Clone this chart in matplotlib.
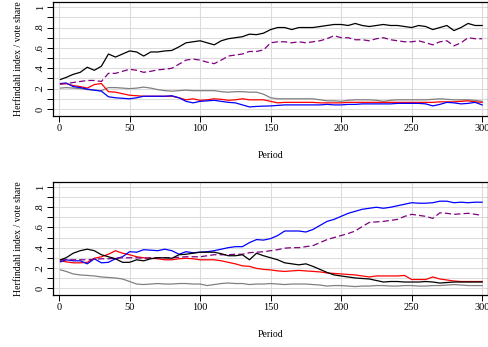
import matplotlib
matplotlib.use("Agg")
import matplotlib.pyplot as plt
import numpy as np

plt.rcParams["font.family"] = ["Liberation Serif", "DejaVu Serif"]

period = [1] + list(range(5, 301, 5))

# ---- top panel ----
top_black = [0.29, 0.31, 0.34, 0.36, 0.41, 0.38, 0.42, 0.54, 0.51, 0.54,
             0.57, 0.56, 0.52, 0.56, 0.56, 0.57, 0.575, 0.61, 0.65, 0.66,
             0.67, 0.65, 0.63, 0.67, 0.69, 0.70, 0.71, 0.735, 0.73, 0.745,
             0.78, 0.80, 0.80, 0.78, 0.80, 0.80, 0.80, 0.81, 0.82, 0.83,
             0.83, 0.82, 0.84, 0.82, 0.81, 0.82, 0.83, 0.82, 0.82, 0.81,
             0.80, 0.82, 0.81, 0.78, 0.80, 0.82, 0.77, 0.80, 0.84, 0.82, 0.82]
top_purple = [0.245, 0.25, 0.26, 0.27, 0.28, 0.28, 0.27, 0.35, 0.35, 0.37,
              0.39, 0.38, 0.36, 0.37, 0.385, 0.39, 0.40, 0.44, 0.48, 0.49,
              0.48, 0.46, 0.445, 0.48, 0.52, 0.53, 0.54, 0.565, 0.565, 0.58,
              0.65, 0.66, 0.66, 0.65, 0.66, 0.65, 0.66, 0.67, 0.69, 0.72,
              0.70, 0.70, 0.68, 0.68, 0.67, 0.69, 0.70, 0.68, 0.67, 0.66,
              0.66, 0.67, 0.65, 0.63, 0.66, 0.67, 0.62, 0.65, 0.70, 0.69, 0.69]
top_grey = [0.205, 0.21, 0.205, 0.20, 0.19, 0.185, 0.18, 0.21, 0.21, 0.205,
            0.20, 0.205, 0.215, 0.205, 0.19, 0.18, 0.175, 0.18, 0.185, 0.18,
            0.18, 0.18, 0.18, 0.17, 0.165, 0.17, 0.17, 0.165, 0.165, 0.145,
            0.11, 0.10, 0.10, 0.10, 0.10, 0.10, 0.10, 0.09, 0.08, 0.08,
            0.075, 0.085, 0.09, 0.09, 0.09, 0.085, 0.075, 0.085, 0.09, 0.09,
            0.09, 0.09, 0.09, 0.095, 0.10, 0.095, 0.09, 0.09, 0.09, 0.085, 0.075]
top_red = [0.245, 0.25, 0.23, 0.22, 0.205, 0.24, 0.25, 0.17, 0.165, 0.15,
           0.135, 0.13, 0.125, 0.125, 0.125, 0.125, 0.125, 0.11, 0.09, 0.10,
           0.085, 0.09, 0.10, 0.095, 0.085, 0.09, 0.10, 0.09, 0.09, 0.09,
           0.075, 0.06, 0.065, 0.065, 0.065, 0.065, 0.065, 0.06, 0.06, 0.06,
           0.06, 0.065, 0.065, 0.065, 0.065, 0.065, 0.065, 0.065, 0.065, 0.065,
           0.065, 0.065, 0.065, 0.065, 0.07, 0.07, 0.07, 0.075, 0.08, 0.07, 0.065]
top_blue = [0.25, 0.255, 0.22, 0.21, 0.195, 0.185, 0.175, 0.12, 0.11, 0.105,
            0.10, 0.11, 0.125, 0.125, 0.125, 0.125, 0.13, 0.11, 0.075, 0.06,
            0.075, 0.08, 0.085, 0.075, 0.065, 0.06, 0.04, 0.02, 0.025, 0.028,
            0.03, 0.035, 0.04, 0.04, 0.04, 0.04, 0.04, 0.04, 0.045, 0.04,
            0.04, 0.045, 0.045, 0.05, 0.05, 0.05, 0.05, 0.05, 0.055, 0.055,
            0.055, 0.055, 0.05, 0.03, 0.045, 0.065, 0.06, 0.05, 0.055, 0.065, 0.04]

# ---- bottom panel ----
bot_black = [0.28, 0.30, 0.345, 0.37, 0.385, 0.37, 0.33, 0.31, 0.29, 0.255,
             0.255, 0.28, 0.27, 0.29, 0.30, 0.30, 0.295, 0.33, 0.335, 0.345,
             0.355, 0.355, 0.355, 0.34, 0.32, 0.32, 0.33, 0.28, 0.345, 0.32,
             0.30, 0.28, 0.25, 0.24, 0.23, 0.24, 0.215, 0.185, 0.155, 0.13,
             0.12, 0.11, 0.10, 0.095, 0.09, 0.075, 0.06, 0.065, 0.065, 0.06,
             0.06, 0.06, 0.065, 0.06, 0.05, 0.055, 0.06, 0.06, 0.06, 0.06, 0.06]
bot_purple = [0.28, 0.28, 0.28, 0.28, 0.28, 0.285, 0.29, 0.29, 0.295, 0.30,
              0.30, 0.30, 0.295, 0.30, 0.30, 0.30, 0.30, 0.305, 0.31, 0.31,
              0.31, 0.32, 0.33, 0.33, 0.33, 0.335, 0.335, 0.35, 0.355, 0.36,
              0.37, 0.38, 0.395, 0.40, 0.40, 0.41, 0.42, 0.45, 0.48, 0.50,
              0.52, 0.54, 0.565, 0.61, 0.65, 0.655, 0.66, 0.67, 0.68, 0.71,
              0.73, 0.72, 0.71, 0.69, 0.745, 0.74, 0.73, 0.735, 0.74, 0.73, 0.72]
bot_blue = [0.26, 0.28, 0.27, 0.27, 0.24, 0.29, 0.25, 0.255, 0.29, 0.31,
            0.36, 0.355, 0.38, 0.375, 0.37, 0.385, 0.37, 0.335, 0.36, 0.35,
            0.355, 0.36, 0.37, 0.385, 0.40, 0.41, 0.41, 0.45, 0.48, 0.475,
            0.49, 0.52, 0.565, 0.565, 0.565, 0.555, 0.58, 0.62, 0.66, 0.68,
            0.71, 0.74, 0.76, 0.78, 0.79, 0.80, 0.79, 0.80, 0.815, 0.83,
            0.845, 0.84, 0.84, 0.845, 0.86, 0.86, 0.845, 0.85, 0.845, 0.85, 0.85]
bot_red = [0.27, 0.26, 0.25, 0.25, 0.255, 0.295, 0.31, 0.335, 0.37, 0.345,
           0.33, 0.31, 0.30, 0.295, 0.29, 0.28, 0.28, 0.29, 0.295, 0.29,
           0.28, 0.28, 0.28, 0.27, 0.255, 0.24, 0.22, 0.215, 0.195, 0.185,
           0.18, 0.17, 0.165, 0.17, 0.175, 0.17, 0.165, 0.16, 0.15, 0.145,
           0.14, 0.135, 0.13, 0.12, 0.11, 0.12, 0.12, 0.12, 0.12, 0.125,
           0.085, 0.085, 0.085, 0.11, 0.09, 0.08, 0.07, 0.065, 0.065, 0.065, 0.065]
bot_grey = [0.18, 0.165, 0.14, 0.13, 0.125, 0.12, 0.11, 0.105, 0.10, 0.09,
            0.065, 0.04, 0.035, 0.04, 0.045, 0.04, 0.04, 0.045, 0.045, 0.04,
            0.04, 0.025, 0.035, 0.045, 0.05, 0.045, 0.045, 0.035, 0.04, 0.04,
            0.045, 0.04, 0.035, 0.04, 0.04, 0.04, 0.035, 0.03, 0.02, 0.025,
            0.025, 0.02, 0.015, 0.02, 0.02, 0.025, 0.025, 0.02, 0.02, 0.025,
            0.025, 0.02, 0.02, 0.025, 0.025, 0.03, 0.035, 0.03, 0.025, 0.025, 0.025]

x_ticks = [0, 50, 100, 150, 200, 250, 300]
y_ticks = [0, 0.2, 0.4, 0.6, 0.8, 1.0]
y_labels = ["0", ".2", ".4", ".6", ".8", "1"]

fig = plt.figure(figsize=(4.89, 3.47), dpi=100)
ax_top = fig.add_axes([0.1084, 0.666, 0.89, 0.328])
ax_bot = fig.add_axes([0.1084, 0.150, 0.89, 0.3255])


def style(ax, series):
    for vals, color, ls in series:
        ax.plot(period, vals, color=color, lw=0.9, ls=ls,
                dashes=(5, 2.5) if ls == "--" else (None, None))
    ax.set_xlim(-4.3, 304.3)
    ax.set_ylim(-0.068, 1.05)
    ax.set_xticks(x_ticks)
    ax.set_yticks(y_ticks)
    ax.set_yticklabels(y_labels, rotation=90, va="center")
    ax.set_yticks(np.arange(0.1, 1.0, 0.2), minor=True)
    ax.grid(True, which="both", color="#dcdcdc", lw=0.8)
    ax.set_axisbelow(True)
    ax.tick_params(labelsize=7.5, length=4, width=0.7, direction="out", pad=2)
    ax.tick_params(which="minor", length=4, width=0.7)
    for s in ax.spines.values():
        s.set_linewidth(0.9)
    ax.set_ylabel("Herfindahl index / vote share", fontsize=7, labelpad=9)
    ax.set_xlabel("Period", fontsize=7, labelpad=13)


style(ax_top, [(top_grey, "grey", "-"), (top_red, "red", "-"),
               (top_blue, "blue", "-"), (top_purple, "purple", "--"),
               (top_black, "black", "-")])
style(ax_bot, [(bot_grey, "grey", "-"), (bot_red, "red", "-"),
               (bot_blue, "blue", "-"), (bot_purple, "purple", "--"),
               (bot_black, "black", "-")])

fig.savefig("out.png", dpi=100)
